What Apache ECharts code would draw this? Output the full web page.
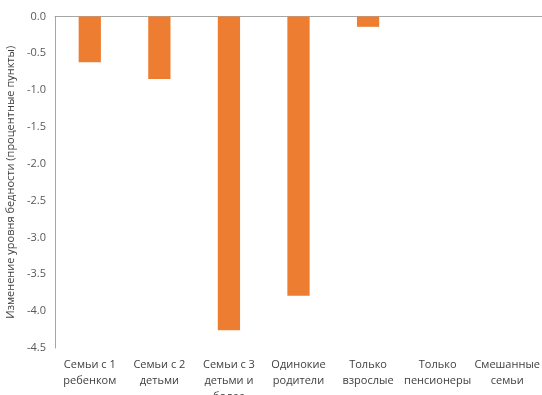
<!DOCTYPE html>
<html>
<head>
<meta charset="utf-8">
<script src="https://cdn.jsdelivr.net/npm/echarts@6/dist/echarts.min.js"></script>
<style>
  html, body { margin: 0; padding: 0; background: #fff; }
  #chart { width: 542px; height: 395px; }
</style>
</head>
<body>
<div id="chart"></div>
<script>
  const categories = [
    'Семьи с 1\nребенком',
    'Семьи с 2\nдетьми',
    'Семьи с 3\nдетьми и\nболее',
    'Одинокие\nродители',
    'Только\nвзрослые',
    'Только\nпенсионеры',
    'Смешанные\nсемьи'
  ]
  const values = [-0.62, -0.85, -4.26, -3.79, -0.14, 0, 0]

  const chart = echarts.init(document.getElementById('chart'))
  const font = 'Open Sans, Noto Sans, sans-serif'
  const option = {
    animation: false,
    grid: { left: 55, right: 0, top: 16.5, bottom: 47, containLabel: false, outerBoundsMode: 'none' },
    xAxis: [
      {
        type: 'category',
        data: categories,
        position: 'bottom',
        axisLine: { show: false },
        axisTick: { show: false },
        axisLabel: {
          interval: 0,
          margin: 9,
          color: '#404040',
          fontSize: 11,
          lineHeight: 16,
          fontFamily: font
        }
      },
      {
        type: 'category',
        data: categories,
        position: 'top',
        axisLine: { show: true, onZero: false, lineStyle: { color: '#a6a6a6', width: 1 } },
        axisTick: { show: false },
        axisLabel: { show: false }
      }
    ],
    yAxis: {
      type: 'value',
      min: -4.5,
      max: 0,
      interval: 0.5,
      name: 'Изменение уровня бедности (процентные пункты)',
      nameLocation: 'middle',
      nameGap: 35,
      nameTextStyle: { color: '#404040', fontSize: 11, fontFamily: font },
      axisLine: { show: true, lineStyle: { color: '#a6a6a6' } },
      axisTick: { show: false },
      splitLine: { show: false },
      axisLabel: {
        color: '#595959',
        fontSize: 11,
        fontFamily: font,
        margin: 9,
        formatter: v => v.toFixed(1)
      }
    },
    series: [
      {
        type: 'bar',
        data: values,
        barWidth: '32%',
        itemStyle: { color: '#ED7D31' }
      }
    ]
  }
  chart.setOption(option)
</script>
</body>
</html>
